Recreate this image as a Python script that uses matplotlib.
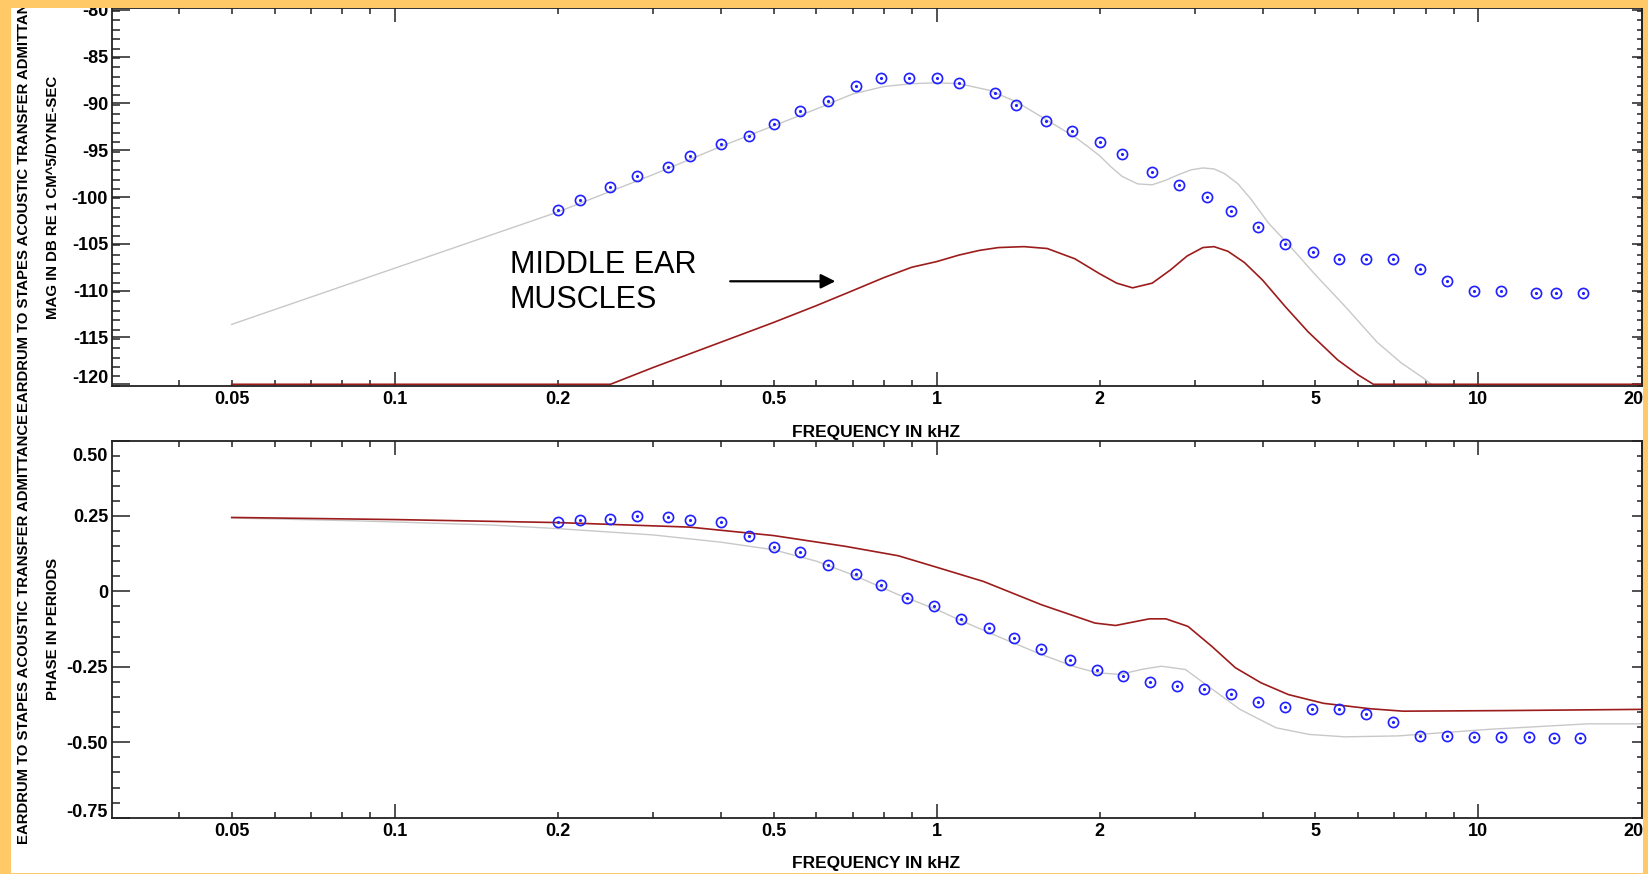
import numpy as np
import matplotlib
matplotlib.use('Agg')
import matplotlib.pyplot as plt
from matplotlib.patches import Rectangle
from matplotlib.transforms import ScaledTranslation

plt.rcParams['font.family'] = ['Liberation Sans', 'DejaVu Sans']

# measured eardrum-to-stapes transfer admittance (blue circles), kHz
mag_freq = [0.2, 0.22, 0.25, 0.28, 0.32, 0.35, 0.4, 0.45, 0.5, 0.56, 0.63, 0.71, 0.79,
            0.89, 1.0, 1.1, 1.28, 1.4, 1.59, 1.78, 2.0, 2.2, 2.5, 2.8, 3.15, 3.5, 3.92,
            4.4, 4.95, 5.52, 6.2, 6.95, 7.8, 8.76, 9.8, 11.0, 12.8, 13.9, 15.6]
mag_db = [-101.4, -100.3, -98.9, -97.8, -96.8, -95.6, -94.3, -93.5, -92.2, -90.8, -89.7,
          -88.2, -87.3, -87.3, -87.3, -87.8, -88.9, -90.2, -91.9, -93.0, -94.1, -95.4,
          -97.3, -98.7, -100.0, -101.5, -103.2, -105.0, -105.9, -106.6, -106.6, -106.6,
          -107.7, -109.0, -110.0, -110.0, -110.2, -110.2, -110.2]

phase_freq = [0.2, 0.22, 0.25, 0.28, 0.32, 0.35, 0.4, 0.45, 0.5, 0.56, 0.63, 0.71, 0.79,
              0.88, 0.99, 1.11, 1.25, 1.39, 1.56, 1.76, 1.98, 2.21, 2.48, 2.78, 3.12, 3.5,
              3.92, 4.4, 4.92, 5.52, 6.2, 6.95, 7.8, 8.76, 9.8, 11.0, 12.4, 13.8, 15.4]
phase_per = [0.229, 0.237, 0.241, 0.250, 0.245, 0.237, 0.229, 0.184, 0.146, 0.129, 0.087,
             0.059, 0.021, -0.022, -0.050, -0.090, -0.121, -0.154, -0.191, -0.228, -0.262,
             -0.279, -0.300, -0.312, -0.325, -0.339, -0.366, -0.383, -0.391, -0.391,
             -0.407, -0.432, -0.479, -0.479, -0.482, -0.482, -0.482, -0.487, -0.487]

# model (gray)
model_mag_freq = [0.05, 0.1, 0.2, 0.3, 0.4, 0.5, 0.6, 0.7, 0.8, 0.9, 1.0, 1.1, 1.25, 1.4,
                  1.6, 1.8, 1.9, 2.0, 2.1, 2.2, 2.35, 2.5, 2.65, 2.8, 2.95, 3.1, 3.25, 3.4,
                  3.6, 3.8, 4.1, 4.45, 5.0, 5.7, 6.5, 7.2, 7.9, 8.4]
model_mag_db = [-113.6, -107.6, -101.6, -97.6, -94.6, -92.4, -90.6, -89.0, -88.2, -87.9,
                -87.8, -87.9, -88.6, -89.8, -91.8, -93.6, -94.6, -95.6, -96.8, -97.8,
                -98.6, -98.7, -98.2, -97.6, -97.1, -96.9, -97.0, -97.5, -98.6, -100.2,
                -102.8, -105.0, -108.3, -111.8, -115.5, -117.7, -119.3, -120.5]
model_phase_freq = [0.05, 0.08, 0.1, 0.15, 0.2, 0.3, 0.4, 0.5, 0.6, 0.7, 0.85, 1.0, 1.1,
                    1.3, 1.56, 1.8, 1.98, 2.18, 2.4, 2.6, 2.88, 3.17, 3.63, 4.23, 4.87,
                    5.66, 7.1, 10.5, 15.9, 20.0]
model_phase = [0.243, 0.235, 0.230, 0.220, 0.208, 0.187, 0.163, 0.138, 0.100, 0.055,
               -0.011, -0.060, -0.094, -0.150, -0.209, -0.250, -0.270, -0.275, -0.258,
               -0.248, -0.259, -0.314, -0.391, -0.452, -0.474, -0.482, -0.479, -0.457,
               -0.439, -0.439]

# middle ear muscles (dark red)
muscle_mag_freq = [0.05, 0.25, 0.3, 0.4, 0.5, 0.6, 0.7, 0.8, 0.9, 1.0, 1.1, 1.2, 1.3,
                   1.45, 1.6, 1.8, 2.0, 2.15, 2.3, 2.5, 2.7, 2.9, 3.1, 3.25, 3.45, 3.7,
                   4.0, 4.4, 4.85, 5.5, 6.0, 6.4, 20.0]
muscle_mag_db = [-120.0, -120.0, -118.2, -115.5, -113.4, -111.6, -110.0, -108.6, -107.5,
                 -106.9, -106.2, -105.7, -105.4, -105.3, -105.5, -106.6, -108.2, -109.2,
                 -109.7, -109.2, -107.8, -106.3, -105.4, -105.3, -105.8, -107.0, -108.9,
                 -111.7, -114.4, -117.4, -119.0, -120.0, -120.0]
muscle_phase_freq = [0.05, 0.1, 0.2, 0.35, 0.5, 0.68, 0.85, 1.0, 1.22, 1.56, 1.96, 2.14,
                     2.47, 2.65, 2.91, 3.22, 3.56, 3.97, 4.46, 5.18, 6.32, 7.26, 11.2, 20.0]
muscle_phase = [0.245, 0.238, 0.228, 0.213, 0.185, 0.149, 0.118, 0.080, 0.033, -0.044,
                -0.105, -0.113, -0.091, -0.091, -0.116, -0.182, -0.253, -0.303, -0.342,
                -0.371, -0.389, -0.397, -0.395, -0.391]

x_ticks = [0.05, 0.1, 0.2, 0.5, 1, 2, 5, 10, 20]
x_ticklabels = ['0.05', '0.1', '0.2', '0.5', '1', '2', '5', '10', '20']
mag_ticks = [-80, -85, -90, -95, -100, -105, -110, -115, -120]
phase_ticks = [0.5, 0.25, 0, -0.25, -0.5, -0.75]
phase_ticklabels = ['0.50', '0.25', '0', '-0.25', '-0.50', '-0.75']

BLUE = '#1f1fff'
GRAY = '#c8c8c8'
RED = '#9c1c1c'
BOLD = dict(fontweight='bold', family=['Liberation Sans', 'DejaVu Sans'])
TICK_SIZE = 13

W, H = 1648, 874
fig = plt.figure(figsize=(W / 100, H / 100), dpi=100)
fig.patch.set_facecolor('white')

ax1 = fig.add_axes([111.5 / W, (H - 385.7) / H, 1530 / W, 377.4 / H])
ax2 = fig.add_axes([111.5 / W, (H - 817.7) / H, 1530 / W, 377.2 / H])


def nudge(label, dx_px, dy_px):
    label.set_transform(label.get_transform()
                        + ScaledTranslation(dx_px / 100, dy_px / 100, fig.dpi_scale_trans))


def setup_axis(ax, yticks, ylabels, ymin, ymax, ystep):
    ax.set_xscale('log')
    ax.set_xlim(0.03, 20)
    ax.set_ylim(ymin, ymax)
    major = [0.1, 1, 10]
    minor = [m * d for d in (0.01, 0.1, 1) for m in range(2, 10)] + [20]
    minor = [v for v in minor if 0.03 < v <= 20 and v not in major]
    ax.set_xticks(major, [x_ticklabels[x_ticks.index(v)] for v in major])
    ax.set_xticks(minor, [x_ticklabels[x_ticks.index(v)] if v in x_ticks else ''
                          for v in minor], minor=True)
    ax.set_yticks(yticks, ylabels)
    ax.set_yticks(np.arange(ymin, ymax + 1e-9, ystep), minor=True)
    ax.tick_params(axis='x', which='both', direction='in', top=True, bottom=True,
                   pad=4, labelsize=TICK_SIZE, width=1.1, color='#222222')
    ax.tick_params(axis='x', which='major', length=10)
    ax.tick_params(axis='x', which='minor', length=4.5)
    ax.tick_params(axis='y', which='both', direction='in', left=True, right=False,
                   pad=2.5, labelsize=TICK_SIZE, width=1.1, color='#222222')
    ax.tick_params(axis='y', which='major', length=13)
    ax.tick_params(axis='y', which='minor', length=6)
    for lab in ax.get_xticklabels(which='both') + ax.get_yticklabels():
        lab.set_fontweight('bold')
    for lab in ax.get_xticklabels(minor=True):
        if lab.get_text() == '20':
            lab.set_horizontalalignment('right')
            nudge(lab, 2, 0)
    for sp in ax.spines.values():
        sp.set_linewidth(1.3)
        sp.set_color('#222222')
    # shorter ticks on the right side
    sec = ax.secondary_yaxis('right')
    sec.set_yticks(yticks)
    sec.set_yticks(np.arange(ymin, ymax + 1e-9, ystep), minor=True)
    sec.tick_params(axis='y', which='both', direction='in', labelright=False,
                    width=1.1, color='#222222')
    sec.tick_params(axis='y', which='major', length=7.5)
    sec.tick_params(axis='y', which='minor', length=3.6)
    sec.spines['right'].set_linewidth(1.3)
    sec.spines['right'].set_color('#222222')
    ax.set_xlabel('FREQUENCY IN kHZ', fontsize=12.5, **BOLD)
    ax.xaxis.set_label_coords(0.5, -0.1227)
    ax.xaxis.label.set_va('center')


# magnitude panel
setup_axis(ax1, mag_ticks, [str(v) for v in mag_ticks], -120.15, -79.85, 1)
ax1.plot(model_mag_freq, model_mag_db, color=GRAY, lw=1.0)
ax1.plot(muscle_mag_freq, muscle_mag_db, color=RED, lw=1.2)
ax1.plot(mag_freq, mag_db, ls='none', marker='o', ms=7.3, mfc='none', mec=BLUE, mew=1.2)
ax1.plot(mag_freq, mag_db, ls='none', marker='.', ms=2.5, color=BLUE)
ax1.set_ylabel('MAG IN DB RE 1 CM^5/DYNE-SEC', fontsize=10.8, **BOLD)
ax1.yaxis.set_label_coords(-0.0382, 0.5)
ax1.yaxis.label.set_va('center')
ax1.text(0.163, -109.1, 'MIDDLE EAR\nMUSCLES', fontsize=22, ha='left', va='center',
         linespacing=1.2, family=['Liberation Sans', 'DejaVu Sans'])
ax1.annotate('', xy=(0.658, -109.0), xytext=(0.411, -109.0),
             arrowprops=dict(arrowstyle='-|>', color='black', lw=1.6, mutation_scale=22))
labs = ax1.get_yticklabels()
nudge(labs[-1], 0, 8)

# phase panel
setup_axis(ax2, phase_ticks, phase_ticklabels, -0.75, 0.5, 0.05)
ax2.plot(model_phase_freq, model_phase, color=GRAY, lw=1.0)
ax2.plot(muscle_phase_freq, muscle_phase, color=RED, lw=1.2)
ax2.plot(phase_freq, phase_per, ls='none', marker='o', ms=7.3, mfc='none', mec=BLUE, mew=1.2)
ax2.plot(phase_freq, phase_per, ls='none', marker='.', ms=2.5, color=BLUE)
ax2.set_ylabel('PHASE IN PERIODS', fontsize=10.8, **BOLD)
ax2.yaxis.set_label_coords(-0.0382, 0.5)
ax2.yaxis.label.set_va('center')
labs = ax2.get_yticklabels()
nudge(labs[0], 0, -14)
nudge(labs[-1], 0, 7)

# outer titles
for yc in (197, 629):
    fig.text(24.5 / W, (H - yc) / H, 'EARDRUM TO STAPES ACOUSTIC TRANSFER ADMITTANCE',
             rotation=90, ha='center', va='center', fontsize=10.7, **BOLD)

# orange frame
ORANGE = '#fec966'
for (x0, y0, w, h) in [(0, 0, 11, H), (0, H - 8, W, 8), (1643, 0, W - 1643, H), (0, 0, W, 1.5)]:
    fig.add_artist(Rectangle((x0 / W, y0 / H), w / W, h / H, transform=fig.transFigure,
                             facecolor=ORANGE, edgecolor='none', zorder=10))

fig.savefig('out.png', dpi=100)
